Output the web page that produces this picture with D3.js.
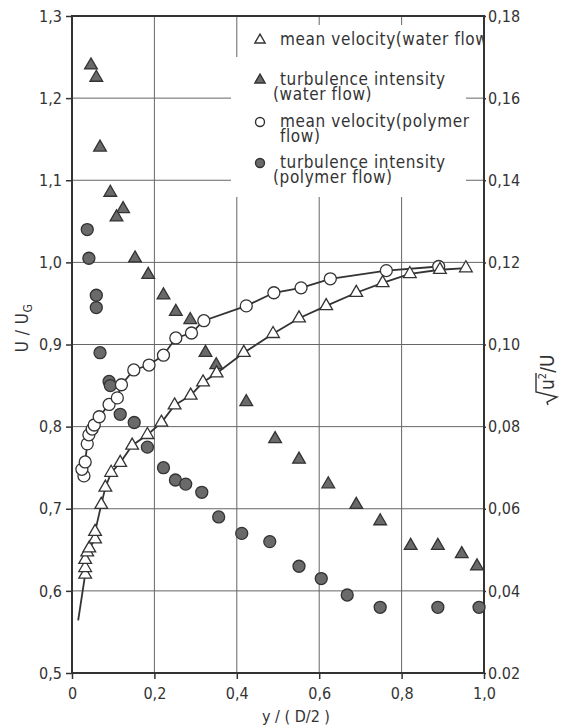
<!DOCTYPE html>
<html>
<head>
<meta charset="utf-8">
<script src="https://cdn.jsdelivr.net/npm/d3@7"></script>
<style>
  html, body { margin: 0; padding: 0; background: #fff; }
  svg text { font-family: "DejaVu Sans Condensed", "DejaVu Sans", sans-serif; fill: #333; }
</style>
</head>
<body>
<div id="chart"></div>
<script>
// mean velocity, water flow (open triangles): y/(D/2) and U/U_G
const waterVelX = [0.032, 0.032, 0.032, 0.037, 0.042, 0.056, 0.056, 0.071, 0.081, 0.095, 0.117, 0.146, 0.183, 0.217, 0.249, 0.288, 0.318, 0.351, 0.417, 0.488, 0.551, 0.617, 0.69, 0.754, 0.82, 0.893, 0.956];
const waterVelU = [0.620, 0.628, 0.638, 0.647, 0.652, 0.663, 0.672, 0.705, 0.726, 0.744, 0.756, 0.777, 0.790, 0.805, 0.826, 0.838, 0.854, 0.865, 0.890, 0.913, 0.932, 0.947, 0.963, 0.975, 0.986, 0.991, 0.993];
// the drawn curve starts below the first marker
const waterCurveStart = [0.015, 0.564];

// mean velocity, polymer flow (open circles)
const polyVelX = [0.029, 0.024, 0.032, 0.037, 0.041, 0.049, 0.054, 0.066, 0.09, 0.11, 0.12, 0.15, 0.187, 0.222, 0.252, 0.29, 0.32, 0.423, 0.49, 0.556, 0.627, 0.763, 0.89];
const polyVelU = [0.740, 0.748, 0.757, 0.779, 0.790, 0.797, 0.802, 0.812, 0.827, 0.835, 0.851, 0.869, 0.875, 0.887, 0.908, 0.914, 0.929, 0.947, 0.963, 0.969, 0.980, 0.990, 0.995];

// turbulence intensity, water flow (filled triangles), right axis
const waterTurbX = [0.046, 0.059, 0.068, 0.093, 0.124, 0.108, 0.153, 0.185, 0.222, 0.252, 0.287, 0.324, 0.35, 0.423, 0.493, 0.551, 0.622, 0.69, 0.748, 0.822, 0.888, 0.946, 0.983];
const waterTurbI = [0.168, 0.165, 0.148, 0.137, 0.133, 0.131, 0.121, 0.117, 0.112, 0.108, 0.106, 0.098, 0.095, 0.086, 0.077, 0.072, 0.066, 0.061, 0.057, 0.051, 0.051, 0.049, 0.046];

// turbulence intensity, polymer flow (filled circles), right axis
const polyTurbX = [0.037, 0.041, 0.059, 0.059, 0.068, 0.09, 0.093, 0.117, 0.151, 0.183, 0.222, 0.251, 0.276, 0.315, 0.356, 0.412, 0.48, 0.551, 0.605, 0.668, 0.748, 0.888, 0.988];
const polyTurbI = [0.128, 0.121, 0.112, 0.109, 0.098, 0.091, 0.090, 0.083, 0.081, 0.075, 0.070, 0.067, 0.066, 0.064, 0.058, 0.054, 0.052, 0.046, 0.043, 0.039, 0.036, 0.036, 0.036];

// ticks
const xTicks = [0, 0.2, 0.4, 0.6, 0.8, 1.0];
const xTickLabels = ["0", "0,2", "0,4", "0,6", "0,8", "1,0"];
const leftTicks = [0.5, 0.6, 0.7, 0.8, 0.9, 1.0, 1.1, 1.2, 1.3];
const leftTickLabels = ["0,5", "0,6", "0,7", "0,8", "0,9", "1,0", "1,1", "1,2", "1,3"];
const rightTicks = [0.02, 0.04, 0.06, 0.08, 0.10, 0.12, 0.14, 0.16, 0.18];
const rightTickLabels = ["0.02", "0,04", "0,06", "0,08", "0,10", "0,12", "0,14", "0,16", "0,18"];

const legendItems = [
  { sym: "triangle", filled: false, lines: ["mean velocity(water flow)"] },
  { sym: "triangle", filled: true, lines: ["turbulence intensity", "(water flow)"] },
  { sym: "circle", filled: false, lines: ["mean velocity(polymer", "flow)"] },
  { sym: "circle", filled: true, lines: ["turbulence intensity", "(polymer flow)"] }
];

const W = 572, H = 726;
const L = 72, R = 484, T = 16, B = 673;
const ink = "#333";
const gridInk = "#666";
const markFill = "#6a6a6a";

let x = d3.scaleLinear().domain([0, 1]).range([L, R]);
let yL = d3.scaleLinear().domain([0.5, 1.3]).range([B, T]);
let yR = d3.scaleLinear().domain([0.02, 0.18]).range([B, T]);

let svg = d3.select('#chart').append('svg')
    .attr('width', W).attr('height', H);

svg.append('rect').attr('width', W).attr('height', H).attr('fill', '#fff');

// grid
let grid = svg.append('g').attr('stroke', gridInk).attr('stroke-width', 1);
grid.selectAll('.vgrid')
    .data(xTicks.slice(1, -1))
    .enter().append('line')
    .attr('x1', d => x(d)).attr('x2', d => x(d))
    .attr('y1', T).attr('y2', B);
grid.selectAll('.hgrid')
    .data(leftTicks.slice(1, -1))
    .enter().append('line')
    .attr('x1', L).attr('x2', R)
    .attr('y1', d => yL(d)).attr('y2', d => yL(d));

// legend area blanks out the grid
svg.append('rect').attr('x', 231).attr('y', 57).attr('width', 235).attr('height', 140).attr('fill', '#fff');
svg.append('rect').attr('x', 242).attr('y', 25).attr('width', 224).attr('height', 33).attr('fill', '#fff');

// axes
let axLeft = svg.append('g').attr('transform', `translate(${L},0)`)
    .call(d3.axisLeft(yL).tickValues(leftTicks).tickSize(6).tickPadding(4)
        .tickFormat((d, i) => leftTickLabels[i]));
let axRight = svg.append('g').attr('transform', `translate(${R},0)`)
    .call(d3.axisRight(yR).tickValues(rightTicks).tickSize(2).tickPadding(2)
        .tickFormat((d, i) => rightTickLabels[i]));
let axBottom = svg.append('g').attr('transform', `translate(0,${B})`)
    .call(d3.axisBottom(x).tickValues(xTicks).tickSize(6).tickPadding(4)
        .tickFormat((d, i) => xTickLabels[i]));

[axLeft, axRight, axBottom].forEach(g => {
  g.select('.domain').remove();
  g.selectAll('line').attr('stroke', ink).attr('stroke-width', 1.5);
  g.selectAll('text').attr('font-size', 16).attr('fill', ink)
      .style('font-family', '"DejaVu Sans Condensed", sans-serif');
});
axBottom.selectAll('text').attr('y', 15);

// frame
svg.append('rect')
    .attr('x', L).attr('y', T).attr('width', R - L).attr('height', B - T)
    .attr('fill', 'none').attr('stroke', ink).attr('stroke-width', 2);

// axis titles
let leftTitle = svg.append('text')
    .attr('transform', 'translate(28,328) rotate(-90)')
    .attr('text-anchor', 'middle').attr('font-size', 17)
    .attr('letter-spacing', 0.5);
leftTitle.append('tspan').text('U / U');
leftTitle.append('tspan').attr('font-size', 12).attr('dy', 4).text('G');

svg.append('text')
    .attr('x', 296).attr('y', 722)
    .attr('text-anchor', 'middle').attr('font-size', 16)
    .text('y / ( D/2 )');

// right title: sqrt(u'^2)/U, reading upwards
let rt = svg.append('g').attr('transform', 'translate(554,374) rotate(-90)');
rt.append('path')
    .attr('d', 'M-31,-6 L-28,-7 L-23,3 L-18,-18 L1,-18')
    .attr('fill', 'none').attr('stroke', ink).attr('stroke-width', 1.4);
let rtText = rt.append('text').attr('x', -16).attr('y', 0).attr('font-size', 19);
rtText.append('tspan').text('u');
rtText.append('tspan').attr('font-size', 11).attr('dy', -8).text('2');
rtText.append('tspan').attr('dy', 8).text('/U');

// curves
let line = d3.line().x(d => x(d[0])).y(d => yL(d[1]));

let waterCurve = [waterCurveStart].concat(waterVelX.map((v, i) => [v, waterVelU[i]]))
    .sort((a, b) => a[1] - b[1]);
let polyCurve = polyVelX.map((v, i) => [v, polyVelU[i]]).sort((a, b) => a[1] - b[1]);

svg.append('path').datum(waterCurve)
    .attr('d', line).attr('fill', 'none').attr('stroke', ink).attr('stroke-width', 1.8);
svg.append('path').datum(polyCurve)
    .attr('d', line).attr('fill', 'none').attr('stroke', ink).attr('stroke-width', 1.8);

// markers
let tri = d3.symbol().type(d3.symbolTriangle).size(70);

function drawTriangles(xs, ys, yScale, filled) {
  svg.append('g').selectAll('path')
      .data(xs.map((v, i) => [v, ys[i]]))
      .enter().append('path')
      .attr('d', tri)
      .attr('transform', d => `translate(${x(d[0])},${yScale(d[1])})`)
      .attr('fill', filled ? markFill : '#fff')
      .attr('stroke', ink).attr('stroke-width', 1.3);
}

function drawCircles(xs, ys, yScale, filled) {
  svg.append('g').selectAll('circle')
      .data(xs.map((v, i) => [v, ys[i]]))
      .enter().append('circle')
      .attr('cx', d => x(d[0])).attr('cy', d => yScale(d[1]))
      .attr('r', 6)
      .attr('fill', filled ? markFill : '#fff')
      .attr('stroke', ink).attr('stroke-width', 1.3);
}

drawCircles(polyTurbX, polyTurbI, yR, true);
drawTriangles(waterTurbX, waterTurbI, yR, true);
drawCircles(polyVelX, polyVelU, yL, false);
drawTriangles(waterVelX, waterVelU, yL, false);

// legend
svg.append('clipPath').attr('id', 'plotclip')
    .append('rect').attr('x', L).attr('y', T).attr('width', R - L - 1).attr('height', B - T);

let legend = svg.append('g').attr('clip-path', 'url(#plotclip)');
let legendTop = [40, 80, 122, 163];
let smallTri = d3.symbol().type(d3.symbolTriangle).size(45);

legendItems.forEach((item, i) => {
  let cy = legendTop[i];
  if (item.sym === 'triangle') {
    legend.append('path').attr('d', smallTri)
        .attr('transform', `translate(260,${cy})`)
        .attr('fill', item.filled ? markFill : '#fff')
        .attr('stroke', ink).attr('stroke-width', 1.4);
  } else {
    legend.append('circle').attr('cx', 260).attr('cy', cy).attr('r', 4.5)
        .attr('fill', item.filled ? markFill : '#fff')
        .attr('stroke', ink).attr('stroke-width', 1.4);
  }
  item.lines.forEach((t, j) => {
    legend.append('text')
        .attr('x', t.startsWith('(') ? 273 : 280)
        .attr('y', cy + 5 + j * 15)
        .attr('font-size', 17)
        .attr('letter-spacing', 0.6)
        .text(t);
  });
});
</script>
</body>
</html>
